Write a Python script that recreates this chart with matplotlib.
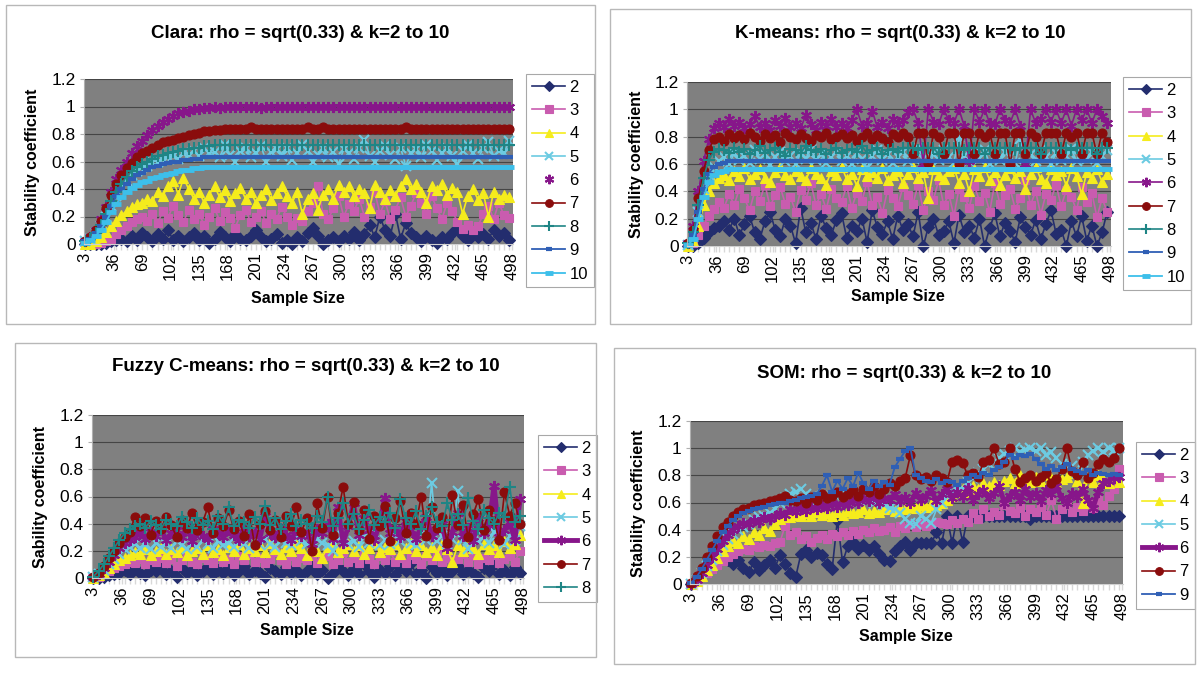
import matplotlib.pyplot as plt
import matplotlib.patches as patches
import numpy as np

plt.rcParams['font.family'] = ['Liberation Sans', 'DejaVu Sans']

# sample sizes (every second point of the 3..498 category axis)
sample_size = np.arange(3, 499, 6)
x_tick_values = [3, 36, 69, 102, 135, 168, 201, 234, 267, 300, 333, 366, 399, 432, 465, 498]
y_tick_values = [0, 0.2, 0.4, 0.6, 0.8, 1.0, 1.2]
y_tick_labels = ['0', '0.2', '0.4', '0.6', '0.8', '1', '1.2']

# ---------------- Clara ----------------
clara_k2 = [0.00, 0.00, 0.00, 0.00, 0.01, 0.02, 0.03, 0.04, 0.02, 0.06,
            0.03, 0.08, 0.05, 0.02, 0.07, 0.04, 0.10, 0.03, 0.06, 0.02,
            0.05, 0.08, 0.03, 0.06, 0.01, 0.04, 0.09, 0.05, 0.02, 0.07,
            0.04, 0.03, 0.06, 0.10, 0.05, 0.02, 0.04, 0.07, 0.01, 0.03,
            0.00, 0.05, 0.02, 0.08, 0.12, 0.06, 0.00, 0.03, 0.05, 0.02,
            0.06, 0.04, 0.09, 0.03, 0.07, 0.14, 0.05, 0.20, 0.10, 0.06,
            0.22, 0.04, 0.15, 0.08, 0.05, 0.02, 0.06, 0.03, 0.01, 0.05,
            0.04, 0.08, 0.11, 0.06, 0.03, 0.09, 0.05, 0.07, 0.04, 0.10,
            0.06, 0.08, 0.03]
clara_k3 = [0.00, 0.00, 0.00, 0.01, 0.02, 0.04, 0.07, 0.10, 0.13, 0.16,
            0.18, 0.20, 0.17, 0.22, 0.15, 0.24, 0.19, 0.28, 0.21, 0.16,
            0.25, 0.18, 0.22, 0.14, 0.20, 0.26, 0.17, 0.23, 0.19, 0.12,
            0.21, 0.25, 0.16, 0.20, 0.24, 0.15, 0.22, 0.18, 0.27, 0.20,
            0.14, 0.19, 0.17, 0.24, 0.30, 0.42, 0.22, 0.18, 0.26, 0.35,
            0.20, 0.29, 0.24, 0.33, 0.20, 0.27, 0.38, 0.22, 0.31, 0.18,
            0.25, 0.34, 0.20, 0.28, 0.37, 0.30, 0.22, 0.35, 0.26, 0.18,
            0.30, 0.24, 0.16, 0.11, 0.14, 0.10, 0.13, 0.22, 0.28, 0.18,
            0.30, 0.21, 0.19]
clara_k4 = [0.00, 0.00, 0.02, 0.05, 0.09, 0.13, 0.17, 0.21, 0.24, 0.27,
            0.29, 0.30, 0.33, 0.31, 0.38, 0.35, 0.42, 0.46, 0.36, 0.48,
            0.40, 0.33, 0.38, 0.30, 0.36, 0.42, 0.34, 0.39, 0.31, 0.37,
            0.41, 0.33, 0.38, 0.30, 0.36, 0.40, 0.32, 0.37, 0.42, 0.35,
            0.30, 0.38, 0.22, 0.33, 0.37, 0.25, 0.36, 0.40, 0.33, 0.43,
            0.38, 0.42, 0.35, 0.40, 0.37, 0.26, 0.43, 0.38, 0.33, 0.39,
            0.35, 0.42, 0.47, 0.40, 0.44, 0.38, 0.30, 0.42, 0.39, 0.44,
            0.36, 0.41, 0.38, 0.22, 0.35, 0.40, 0.32, 0.37, 0.20, 0.38,
            0.33, 0.36, 0.34]
clara_k5 = [0.02, 0.04, 0.08, 0.13, 0.20, 0.28, 0.35, 0.41, 0.46, 0.50,
            0.53, 0.56, 0.57, 0.60, 0.60, 0.62, 0.63, 0.64, 0.62, 0.66,
            0.65, 0.68, 0.64, 0.70, 0.66, 0.67, 0.63, 0.72, 0.65, 0.60,
            0.68, 0.70, 0.63, 0.66, 0.71, 0.60, 0.67, 0.69, 0.64, 0.70,
            0.61, 0.66, 0.72, 0.68, 0.60, 0.65, 0.70, 0.63, 0.67, 0.58,
            0.69, 0.66, 0.62, 0.70, 0.76, 0.64, 0.60, 0.68, 0.71, 0.65,
            0.62, 0.70, 0.57, 0.66, 0.69, 0.63, 0.72, 0.68, 0.61, 0.66,
            0.70, 0.64, 0.58, 0.68, 0.72, 0.66, 0.62, 0.70, 0.74, 0.64,
            0.68, 0.66, 0.75]
clara_k6 = [0.02, 0.05, 0.10, 0.18, 0.27, 0.38, 0.47, 0.54, 0.60, 0.66,
            0.71, 0.75, 0.79, 0.83, 0.86, 0.89, 0.91, 0.93, 0.95, 0.96,
            0.97, 0.98, 0.98, 0.99, 0.99, 1.00, 0.99, 1.00, 1.00, 1.00,
            1.00, 1.00, 1.00, 1.00, 0.99, 1.00, 1.00, 1.00, 1.00, 1.00,
            1.00, 1.00, 1.00, 1.00, 1.00, 1.00, 1.00, 1.00, 1.00, 1.00,
            1.00, 1.00, 1.00, 1.00, 1.00, 1.00, 1.00, 1.00, 1.00, 1.00,
            1.00, 1.00, 1.00, 1.00, 1.00, 1.00, 1.00, 1.00, 1.00, 1.00,
            1.00, 1.00, 1.00, 1.00, 1.00, 1.00, 1.00, 1.00, 1.00, 1.00,
            1.00, 1.00, 1.00]
clara_k7 = [0.02, 0.05, 0.10, 0.17, 0.26, 0.36, 0.44, 0.50, 0.55, 0.59,
            0.63, 0.66, 0.68, 0.70, 0.72, 0.74, 0.75, 0.76, 0.77, 0.78,
            0.79, 0.80, 0.81, 0.82, 0.82, 0.83, 0.83, 0.84, 0.84, 0.84,
            0.84, 0.84, 0.85, 0.84, 0.84, 0.84, 0.84, 0.84, 0.84, 0.84,
            0.84, 0.84, 0.84, 0.85, 0.84, 0.84, 0.85, 0.84, 0.84, 0.84,
            0.84, 0.84, 0.84, 0.84, 0.84, 0.84, 0.84, 0.84, 0.84, 0.84,
            0.84, 0.84, 0.85, 0.84, 0.84, 0.84, 0.84, 0.84, 0.84, 0.84,
            0.84, 0.84, 0.84, 0.84, 0.84, 0.84, 0.84, 0.84, 0.84, 0.84,
            0.84, 0.84, 0.84]
clara_k8 = [0.02, 0.04, 0.08, 0.14, 0.22, 0.31, 0.38, 0.44, 0.49, 0.53,
            0.56, 0.58, 0.60, 0.62, 0.64, 0.65, 0.66, 0.67, 0.68, 0.69,
            0.69, 0.70, 0.70, 0.71, 0.71, 0.72, 0.72, 0.72, 0.72, 0.72,
            0.72, 0.72, 0.72, 0.72, 0.72, 0.72, 0.72, 0.72, 0.72, 0.72,
            0.72, 0.72, 0.72, 0.72, 0.72, 0.72, 0.72, 0.72, 0.72, 0.72,
            0.72, 0.72, 0.72, 0.72, 0.72, 0.72, 0.72, 0.72, 0.72, 0.72,
            0.72, 0.72, 0.72, 0.72, 0.72, 0.72, 0.72, 0.72, 0.72, 0.72,
            0.72, 0.72, 0.72, 0.72, 0.72, 0.72, 0.72, 0.72, 0.72, 0.72,
            0.72, 0.72, 0.72]
clara_k9 = [0.02, 0.04, 0.08, 0.13, 0.20, 0.28, 0.35, 0.40, 0.44, 0.47,
            0.50, 0.52, 0.54, 0.56, 0.57, 0.58, 0.59, 0.60, 0.60, 0.61,
            0.61, 0.62, 0.62, 0.63, 0.63, 0.63, 0.63, 0.63, 0.63, 0.63,
            0.63, 0.63, 0.63, 0.63, 0.63, 0.63, 0.63, 0.63, 0.63, 0.63,
            0.63, 0.63, 0.63, 0.63, 0.63, 0.63, 0.63, 0.63, 0.63, 0.63,
            0.63, 0.63, 0.63, 0.63, 0.63, 0.63, 0.63, 0.63, 0.63, 0.63,
            0.63, 0.63, 0.63, 0.63, 0.63, 0.63, 0.63, 0.63, 0.63, 0.63,
            0.63, 0.63, 0.63, 0.63, 0.63, 0.63, 0.63, 0.63, 0.63, 0.63,
            0.63, 0.63, 0.63]
clara_k10 = [0.01, 0.03, 0.06, 0.10, 0.16, 0.23, 0.29, 0.34, 0.38, 0.41,
             0.43, 0.45, 0.46, 0.48, 0.49, 0.50, 0.51, 0.52, 0.53, 0.54,
             0.54, 0.55, 0.55, 0.56, 0.56, 0.56, 0.56, 0.56, 0.56, 0.56,
             0.56, 0.56, 0.56, 0.56, 0.56, 0.56, 0.56, 0.56, 0.56, 0.56,
             0.56, 0.56, 0.56, 0.56, 0.56, 0.56, 0.56, 0.56, 0.56, 0.56,
             0.56, 0.56, 0.56, 0.56, 0.56, 0.56, 0.56, 0.56, 0.56, 0.56,
             0.56, 0.56, 0.56, 0.56, 0.56, 0.56, 0.56, 0.56, 0.56, 0.56,
             0.56, 0.56, 0.56, 0.56, 0.56, 0.56, 0.56, 0.56, 0.56, 0.56,
             0.56, 0.56, 0.56]

# ---------------- K-means ----------------
km_k2 = [0.00, 0.00, 0.02, 0.06, 0.10, 0.13, 0.15, 0.18, 0.12, 0.20,
         0.08, 0.16, 0.22, 0.10, 0.05, 0.18, 0.25, 0.12, 0.07, 0.20,
         0.15, 0.02, 0.28, 0.10, 0.17, 0.05, 0.22, 0.13, 0.08, 0.19,
         0.24, 0.06, 0.15, 0.11, 0.20, 0.03, 0.26, 0.14, 0.09, 0.18,
         0.05, 0.22, 0.12, 0.16, 0.07, 0.25, 0.00, 0.14, 0.20, 0.08,
         0.11, 0.18, 0.02, 0.23, 0.10, 0.15, 0.06, 0.20, 0.00, 0.13,
         0.24, 0.07, 0.17, 0.11, 0.03, 0.21, 0.14, 0.08, 0.19, 0.05,
         0.16, 0.26, 0.09, 0.12, 0.00, 0.18, 0.07, 0.22, 0.04, 0.15,
         0.00, 0.10, 0.25]
km_k3 = [0.00, 0.02, 0.08, 0.15, 0.22, 0.27, 0.32, 0.28, 0.38, 0.30,
         0.42, 0.35, 0.26, 0.40, 0.33, 0.45, 0.29, 0.37, 0.43, 0.31,
         0.36, 0.25, 0.41, 0.34, 0.46, 0.30, 0.38, 0.27, 0.42, 0.35,
         0.32, 0.44, 0.28, 0.39, 0.33, 0.47, 0.30, 0.36, 0.24, 0.41,
         0.35, 0.29, 0.43, 0.37, 0.31, 0.45, 0.26, 0.40, 0.34, 0.48,
         0.30, 0.38, 0.22, 0.42, 0.36, 0.28, 0.44, 0.33, 0.39, 0.25,
         0.46, 0.31, 0.37, 0.42, 0.27, 0.35, 0.48, 0.30, 0.40, 0.23,
         0.38, 0.34, 0.45, 0.29, 0.41, 0.36, 0.26, 0.43, 0.32, 0.39,
         0.21, 0.35, 0.25]
km_k4 = [0.00, 0.04, 0.15, 0.30, 0.40, 0.46, 0.50, 0.52, 0.48, 0.55,
         0.51, 0.57, 0.49, 0.53, 0.56, 0.50, 0.47, 0.54, 0.58, 0.52,
         0.49, 0.55, 0.51, 0.48, 0.57, 0.53, 0.50, 0.45, 0.55, 0.52,
         0.58, 0.49, 0.53, 0.44, 0.56, 0.51, 0.54, 0.50, 0.57, 0.48,
         0.52, 0.55, 0.46, 0.53, 0.58, 0.50, 0.54, 0.35, 0.56, 0.52,
         0.49, 0.55, 0.57, 0.46, 0.53, 0.40, 0.56, 0.51, 0.58, 0.48,
         0.54, 0.45, 0.52, 0.57, 0.50, 0.55, 0.42, 0.53, 0.58, 0.49,
         0.46, 0.56, 0.52, 0.55, 0.44, 0.57, 0.51, 0.38, 0.54, 0.50,
         0.56, 0.47, 0.53]
km_k5 = [0.01, 0.08, 0.25, 0.42, 0.52, 0.58, 0.62, 0.65, 0.60, 0.68,
         0.63, 0.66, 0.61, 0.70, 0.64, 0.67, 0.59, 0.65, 0.69, 0.62,
         0.66, 0.60, 0.68, 0.64, 0.71, 0.63, 0.67, 0.61, 0.65, 0.69,
         0.62, 0.66, 0.60, 0.68, 0.64, 0.57, 0.66, 0.70, 0.63, 0.67,
         0.61, 0.65, 0.69, 0.62, 0.66, 0.72, 0.64, 0.58, 0.67, 0.63,
         0.70, 0.65, 0.61, 0.80, 0.66, 0.62, 0.68, 0.64, 0.70, 0.60,
         0.66, 0.63, 0.69, 0.65, 0.61, 0.78, 0.64, 0.67, 0.62, 0.70,
         0.65, 0.60, 0.68, 0.63, 0.66, 0.71, 0.62, 0.67, 0.64, 0.69,
         0.61, 0.66, 0.70]
km_k6 = [0.02, 0.15, 0.40, 0.62, 0.78, 0.86, 0.90, 0.87, 0.93, 0.88,
         0.91, 0.86, 0.89, 0.95, 0.87, 0.90, 0.85, 0.92, 0.88, 0.94,
         0.87, 0.90, 0.86, 0.96, 0.89, 0.85, 0.91, 0.88, 0.93, 0.87,
         0.90, 0.86, 0.92, 1.00, 0.88, 0.90, 0.99, 0.87, 0.91, 0.86,
         0.93, 0.89, 0.92, 0.98, 1.00, 0.90, 0.60, 1.00, 0.91, 0.89,
         1.00, 0.92, 0.90, 1.00, 0.88, 0.62, 1.00, 0.91, 1.00, 0.90,
         0.89, 1.00, 0.92, 0.90, 1.00, 0.88, 0.60, 1.00, 0.90, 0.93,
         1.00, 0.91, 1.00, 0.90, 1.00, 0.88, 1.00, 0.92, 1.00, 0.90,
         1.00, 0.95, 0.90]
km_k7 = [0.02, 0.12, 0.35, 0.55, 0.70, 0.78, 0.80, 0.77, 0.82, 0.79,
         0.81, 0.78, 0.83, 0.80, 0.77, 0.82, 0.79, 0.81, 0.76, 0.83,
         0.80, 0.78, 0.82, 0.79, 0.77, 0.81, 0.80, 0.83, 0.78, 0.80,
         0.82, 0.79, 0.81, 0.77, 0.80, 0.83, 0.78, 0.81, 0.79, 0.76,
         0.82, 0.80, 0.83, 0.80, 0.67, 0.83, 0.83, 0.61, 0.83, 0.80,
         0.67, 0.83, 0.83, 0.60, 0.83, 0.83, 0.67, 0.83, 0.80, 0.83,
         0.67, 0.83, 0.83, 0.60, 0.83, 0.83, 0.67, 0.83, 0.80, 0.67,
         0.83, 0.83, 0.83, 0.67, 0.83, 0.80, 0.83, 0.67, 0.83, 0.83,
         0.67, 0.83, 0.76]
km_k8 = [0.02, 0.10, 0.30, 0.50, 0.63, 0.69, 0.71, 0.70, 0.68, 0.72,
         0.69, 0.71, 0.67, 0.70, 0.73, 0.68, 0.70, 0.72, 0.69, 0.66,
         0.71, 0.70, 0.68, 0.73, 0.70, 0.69, 0.71, 0.67, 0.70, 0.72,
         0.68, 0.70, 0.71, 0.69, 0.73, 0.68, 0.70, 0.72, 0.67, 0.70,
         0.71, 0.69, 0.72, 0.72, 0.72, 0.70, 0.72, 0.72, 0.72, 0.67,
         0.72, 0.72, 0.72, 0.72, 0.70, 0.72, 0.72, 0.72, 0.67, 0.72,
         0.72, 0.72, 0.72, 0.72, 0.70, 0.72, 0.72, 0.72, 0.72, 0.67,
         0.72, 0.72, 0.72, 0.72, 0.72, 0.70, 0.72, 0.72, 0.72, 0.72,
         0.67, 0.72, 0.72]
km_k9 = [0.01, 0.08, 0.25, 0.42, 0.53, 0.58, 0.60, 0.61, 0.62, 0.62,
         0.62, 0.62, 0.62, 0.62, 0.62, 0.62, 0.62, 0.62, 0.62, 0.62,
         0.62, 0.62, 0.62, 0.62, 0.62, 0.62, 0.62, 0.62, 0.62, 0.62,
         0.62, 0.62, 0.62, 0.62, 0.62, 0.62, 0.62, 0.62, 0.62, 0.62,
         0.62, 0.62, 0.62, 0.62, 0.62, 0.62, 0.62, 0.62, 0.62, 0.62,
         0.62, 0.62, 0.62, 0.62, 0.62, 0.62, 0.62, 0.62, 0.62, 0.62,
         0.62, 0.62, 0.62, 0.62, 0.62, 0.62, 0.62, 0.62, 0.62, 0.62,
         0.62, 0.62, 0.62, 0.62, 0.62, 0.62, 0.62, 0.62, 0.62, 0.62,
         0.62, 0.62, 0.62]
km_k10 = [0.01, 0.05, 0.20, 0.36, 0.47, 0.52, 0.54, 0.55, 0.56, 0.56,
          0.56, 0.56, 0.56, 0.56, 0.56, 0.56, 0.56, 0.56, 0.56, 0.56,
          0.56, 0.56, 0.56, 0.56, 0.56, 0.56, 0.56, 0.56, 0.56, 0.56,
          0.56, 0.56, 0.56, 0.56, 0.56, 0.56, 0.56, 0.56, 0.56, 0.56,
          0.56, 0.56, 0.56, 0.56, 0.56, 0.56, 0.56, 0.56, 0.56, 0.56,
          0.56, 0.56, 0.56, 0.56, 0.56, 0.56, 0.56, 0.56, 0.56, 0.56,
          0.56, 0.56, 0.56, 0.56, 0.56, 0.56, 0.56, 0.56, 0.56, 0.56,
          0.56, 0.56, 0.56, 0.56, 0.56, 0.56, 0.56, 0.56, 0.56, 0.56,
          0.56, 0.56, 0.56]

# ---------------- Fuzzy C-means ----------------
fz_k2 = [0.00, 0.00, 0.01, 0.02, 0.03, 0.04, 0.06, 0.03, 0.07, 0.04,
         0.02, 0.06, 0.05, 0.08, 0.03, 0.05, 0.01, 0.07, 0.04, 0.06,
         0.02, 0.05, 0.08, 0.03, 0.06, 0.04, 0.07, 0.02, 0.05, 0.09,
         0.03, 0.06, 0.04, 0.01, 0.07, 0.05, 0.03, 0.08, 0.04, 0.06,
         0.02, 0.05, 0.09, 0.03, 0.06, 0.00, 0.04, 0.08, 0.05, 0.02,
         0.07, 0.03, 0.10, 0.05, 0.01, 0.06, 0.04, 0.09, 0.02, 0.07,
         0.05, 0.11, 0.03, 0.06, 0.00, 0.08, 0.04, 0.07, 0.02, 0.05,
         0.09, 0.03, 0.06, 0.04, 0.01, 0.07, 0.05, 0.10, 0.03, 0.06,
         0.02, 0.08, 0.04]
fz_k3 = [0.00, 0.01, 0.03, 0.05, 0.07, 0.09, 0.10, 0.12, 0.11, 0.14,
         0.10, 0.13, 0.12, 0.15, 0.11, 0.14, 0.09, 0.13, 0.16, 0.12,
         0.10, 0.15, 0.13, 0.11, 0.17, 0.12, 0.14, 0.10, 0.16, 0.13,
         0.18, 0.12, 0.15, 0.11, 0.14, 0.19, 0.13, 0.10, 0.16, 0.12,
         0.15, 0.13, 0.18, 0.11, 0.14, 0.16, 0.10, 0.13, 0.19, 0.12,
         0.15, 0.11, 0.17, 0.14, 0.10, 0.16, 0.13, 0.20, 0.12, 0.15,
         0.11, 0.17, 0.14, 0.10, 0.16, 0.13, 0.19, 0.12, 0.15, 0.11,
         0.14, 0.18, 0.12, 0.16, 0.10, 0.15, 0.13, 0.17, 0.11, 0.14,
         0.16, 0.12, 0.20]
fz_k4 = [0.00, 0.02, 0.04, 0.07, 0.10, 0.13, 0.15, 0.17, 0.19, 0.18,
         0.21, 0.17, 0.20, 0.22, 0.18, 0.21, 0.19, 0.23, 0.17, 0.20,
         0.22, 0.18, 0.24, 0.19, 0.21, 0.17, 0.23, 0.20, 0.25, 0.18,
         0.22, 0.20, 0.24, 0.19, 0.26, 0.21, 0.18, 0.23, 0.20, 0.25,
         0.22, 0.17, 0.24, 0.20, 0.15, 0.23, 0.26, 0.19, 0.22, 0.25,
         0.20, 0.24, 0.18, 0.22, 0.26, 0.19, 0.23, 0.21, 0.25, 0.18,
         0.22, 0.26, 0.20, 0.24, 0.19, 0.23, 0.17, 0.25, 0.21, 0.12,
         0.24, 0.20, 0.26, 0.22, 0.18, 0.25, 0.21, 0.24, 0.19, 0.27,
         0.22, 0.25, 0.32]
fz_k5 = [0.01, 0.03, 0.06, 0.10, 0.14, 0.18, 0.21, 0.23, 0.25, 0.22,
         0.24, 0.21, 0.26, 0.23, 0.25, 0.22, 0.27, 0.24, 0.21, 0.26,
         0.23, 0.28, 0.25, 0.22, 0.27, 0.24, 0.26, 0.23, 0.28, 0.25,
         0.22, 0.27, 0.24, 0.29, 0.25, 0.23, 0.28, 0.26, 0.24, 0.30,
         0.27, 0.25, 0.22, 0.29, 0.26, 0.24, 0.20, 0.28, 0.31, 0.25,
         0.27, 0.23, 0.30, 0.26, 0.33, 0.24, 0.28, 0.25, 0.32, 0.27,
         0.30, 0.26, 0.24, 0.35, 0.28, 0.70, 0.27, 0.31, 0.25, 0.29,
         0.64, 0.28, 0.21, 0.33, 0.27, 0.30, 0.26, 0.34, 0.29, 0.25,
         0.31, 0.28, 0.38]
fz_k6 = [0.01, 0.03, 0.07, 0.12, 0.17, 0.22, 0.26, 0.28, 0.30, 0.33,
         0.29, 0.34, 0.31, 0.36, 0.28, 0.33, 0.35, 0.30, 0.38, 0.27,
         0.34, 0.31, 0.29, 0.36, 0.33, 0.30, 0.35, 0.32, 0.28, 0.37,
         0.31, 0.34, 0.29, 0.46, 0.33, 0.30, 0.36, 0.32, 0.28, 0.35,
         0.31, 0.34, 0.25, 0.36, 0.33, 0.40, 0.29, 0.52, 0.26, 0.38,
         0.55, 0.32, 0.44, 0.35, 0.28, 0.40, 0.59, 0.33, 0.37, 0.30,
         0.42, 0.35, 0.29, 0.38, 0.45, 0.31, 0.36, 0.40, 0.22, 0.34,
         0.48, 0.31, 0.37, 0.27, 0.44, 0.33, 0.39, 0.68, 0.30, 0.35,
         0.41, 0.28, 0.58]
fz_k7 = [0.01, 0.04, 0.09, 0.15, 0.20, 0.26, 0.30, 0.34, 0.45, 0.38,
         0.44, 0.32, 0.42, 0.36, 0.45, 0.39, 0.30, 0.43, 0.37, 0.48,
         0.35, 0.41, 0.52, 0.33, 0.44, 0.38, 0.50, 0.36, 0.42, 0.31,
         0.47, 0.24, 0.40, 0.49, 0.35, 0.43, 0.30, 0.46, 0.38, 0.52,
         0.34, 0.44, 0.20, 0.55, 0.37, 0.60, 0.32, 0.48, 0.67, 0.40,
         0.56, 0.35, 0.50, 0.29, 0.46, 0.38, 0.53, 0.27, 0.44, 0.57,
         0.33, 0.48, 0.40, 0.60, 0.31, 0.52, 0.37, 0.45, 0.26, 0.61,
         0.39, 0.54, 0.30, 0.47, 0.58, 0.35, 0.50, 0.42, 0.28, 0.63,
         0.46, 0.55, 0.40]
fz_k8 = [0.01, 0.05, 0.10, 0.16, 0.22, 0.28, 0.33, 0.36, 0.38, 0.40,
         0.37, 0.42, 0.39, 0.36, 0.43, 0.40, 0.38, 0.45, 0.41, 0.37,
         0.44, 0.39, 0.42, 0.36, 0.46, 0.40, 0.52, 0.38, 0.43, 0.41,
         0.37, 0.45, 0.40, 0.53, 0.39, 0.44, 0.36, 0.42, 0.47, 0.38,
         0.43, 0.40, 0.37, 0.46, 0.41, 0.60, 0.38, 0.44, 0.55, 0.40,
         0.47, 0.36, 0.43, 0.50, 0.39, 0.45, 0.41, 0.48, 0.37, 0.58,
         0.44, 0.40, 0.49, 0.36, 0.46, 0.52, 0.41, 0.38, 0.55, 0.43,
         0.47, 0.39, 0.59, 0.42, 0.36, 0.50, 0.44, 0.40, 0.48, 0.45,
         0.67, 0.41, 0.46]

# ---------------- SOM ----------------
som_k2 = [0.00, 0.03, 0.07, 0.11, 0.14, 0.17, 0.19, 0.18, 0.15, 0.18,
          0.12, 0.09, 0.16, 0.10, 0.14, 0.18, 0.12, 0.21, 0.15, 0.08,
          0.05, 0.22, 0.25, 0.20, 0.23, 0.21, 0.15, 0.11, 0.47, 0.16,
          0.28, 0.31, 0.26, 0.29, 0.25, 0.28, 0.22, 0.18, 0.17, 0.24,
          0.28, 0.31, 0.25, 0.30, 0.30, 0.30, 0.30, 0.38, 0.30, 0.50,
          0.30, 0.50, 0.31, 0.50, 0.50, 0.50, 0.50, 0.50, 0.50, 0.50,
          0.50, 0.50, 0.50, 0.50, 0.50, 0.48, 0.50, 0.50, 0.50, 0.50,
          0.50, 0.50, 0.50, 0.50, 0.50, 0.50, 0.50, 0.50, 0.50, 0.50,
          0.50, 0.50, 0.50]
som_k3 = [0.00, 0.02, 0.05, 0.08, 0.11, 0.14, 0.17, 0.20, 0.22, 0.24,
          0.26, 0.25, 0.28, 0.27, 0.29, 0.28, 0.30, 0.31, 0.43, 0.36,
          0.38, 0.33, 0.35, 0.31, 0.34, 0.36, 0.33, 0.37, 0.35, 0.38,
          0.36, 0.39, 0.37, 0.40, 0.38, 0.41, 0.39, 0.40, 0.42, 0.38,
          0.43, 0.41, 0.44, 0.42, 0.45, 0.43, 0.44, 0.46, 0.45, 0.44,
          0.47, 0.45, 0.48, 0.46, 0.52, 0.48, 0.55, 0.50, 0.53, 0.51,
          0.58, 0.54, 0.52, 0.56, 0.50, 0.55, 0.53, 0.57, 0.51, 0.62,
          0.48, 0.55, 0.60, 0.53, 0.57, 0.54, 0.59, 0.56, 0.62, 0.58,
          0.65, 0.70, 0.85]
som_k4 = [0.00, 0.02, 0.06, 0.10, 0.14, 0.19, 0.24, 0.28, 0.32, 0.30,
          0.35, 0.33, 0.38, 0.36, 0.41, 0.39, 0.44, 0.48, 0.50, 0.49,
          0.51, 0.50, 0.52, 0.50, 0.53, 0.51, 0.52, 0.50, 0.53, 0.51,
          0.54, 0.52, 0.53, 0.55, 0.52, 0.54, 0.53, 0.55, 0.56, 0.54,
          0.56, 0.55, 0.57, 0.56, 0.58, 0.57, 0.59, 0.58, 0.60, 0.62,
          0.65, 0.68, 0.70, 0.68, 0.72, 0.70, 0.74, 0.72, 0.75, 0.73,
          0.76, 0.78, 0.74, 0.80, 0.77, 0.75, 0.79, 0.76, 0.80, 0.78,
          0.74, 0.77, 0.79, 0.82, 0.76, 0.60, 0.78, 0.75, 0.80, 0.77,
          0.74, 0.78, 0.75]
som_k5 = [0.00, 0.03, 0.08, 0.13, 0.18, 0.24, 0.29, 0.33, 0.37, 0.40,
          0.42, 0.44, 0.47, 0.49, 0.50, 0.52, 0.55, 0.60, 0.63, 0.66,
          0.68, 0.70, 0.66, 0.64, 0.62, 0.65, 0.63, 0.61, 0.64, 0.62,
          0.65, 0.63, 0.61, 0.64, 0.62, 0.60, 0.63, 0.58, 0.56, 0.55,
          0.52, 0.48, 0.45, 0.44, 0.50, 0.48, 0.45, 0.55, 0.60, 0.65,
          0.68, 0.72, 0.70, 0.75, 0.78, 0.82, 0.85, 0.88, 0.90, 0.93,
          0.96, 0.98, 1.00, 0.97, 0.99, 1.00, 0.98, 1.00, 0.95, 0.97,
          0.93, 0.88, 0.85, 0.87, 0.82, 0.90, 0.95, 0.98, 1.00, 0.97,
          1.00, 0.99, 1.00]
som_k6 = [0.00, 0.03, 0.08, 0.14, 0.20, 0.26, 0.32, 0.36, 0.40, 0.43,
          0.45, 0.44, 0.47, 0.46, 0.49, 0.48, 0.50, 0.52, 0.51, 0.55,
          0.53, 0.56, 0.54, 0.57, 0.55, 0.58, 0.56, 0.60, 0.57, 0.59,
          0.58, 0.62, 0.60, 0.63, 0.61, 0.65, 0.60, 0.63, 0.62, 0.66,
          0.61, 0.64, 0.60, 0.67, 0.62, 0.65, 0.69, 0.61, 0.66, 0.70,
          0.63, 0.68, 0.64, 0.71, 0.62, 0.66, 0.69, 0.63, 0.67, 0.72,
          0.60, 0.65, 0.68, 0.62, 0.70, 0.64, 0.67, 0.61, 0.69, 0.66,
          0.72, 0.63, 0.60, 0.67, 0.64, 0.70, 0.62, 0.56, 0.68, 0.74,
          0.76, 0.78, 0.79]
som_k7 = [0.01, 0.06, 0.12, 0.20, 0.28, 0.35, 0.42, 0.46, 0.50, 0.53,
          0.55, 0.56, 0.58, 0.59, 0.60, 0.61, 0.62, 0.63, 0.65, 0.62,
          0.61, 0.63, 0.60, 0.64, 0.62, 0.66, 0.63, 0.65, 0.68, 0.64,
          0.66, 0.69, 0.65, 0.70, 0.68, 0.72, 0.66, 0.70, 0.74, 0.72,
          0.76, 0.78, 0.95, 0.80, 0.77, 0.79, 0.76, 0.80, 0.78, 0.75,
          0.90, 0.91, 0.89, 0.80, 0.82, 0.79, 0.90, 0.91, 1.00, 0.88,
          0.90, 1.00, 0.85, 0.75, 0.78, 0.80, 0.76, 0.79, 0.82, 0.74,
          0.77, 0.85, 1.00, 0.83, 0.80, 0.90, 0.78, 0.82, 0.88, 0.92,
          0.90, 0.93, 1.00]
som_k9 = [0.01, 0.05, 0.11, 0.18, 0.25, 0.32, 0.38, 0.43, 0.47, 0.50,
          0.52, 0.54, 0.55, 0.56, 0.57, 0.58, 0.59, 0.60, 0.60, 0.61,
          0.62, 0.63, 0.64, 0.65, 0.66, 0.72, 0.80, 0.68, 0.76, 0.70,
          0.78, 0.72, 0.82, 0.74, 0.70, 0.76, 0.72, 0.75, 0.73, 0.86,
          0.92, 0.98, 1.00, 0.80, 0.78, 0.76, 0.75, 0.77, 0.74, 0.76,
          0.75, 0.73, 0.76, 0.78, 0.80, 0.79, 0.82, 0.80, 0.84, 0.86,
          0.90, 0.95, 0.93, 0.95, 0.94, 0.96, 0.92, 0.88, 0.85, 0.87,
          0.84, 0.86, 0.88, 0.85, 0.83, 0.82, 0.84, 0.80, 0.82, 0.81,
          0.80, 0.81, 0.80]

# series look (Excel 2003 default palette)
look = {
    '2': dict(color='#232d6e', marker='D', ms=6.0, mew=0.8, lw=1.2),
    '3': dict(color='#c95caf', marker='s', ms=6.0, mew=0.8, lw=1.2),
    '4': dict(color='#f5ec1c', marker='^', ms=7.5, mew=0.8, lw=1.2),
    '5': dict(color='#6ccbe2', marker='x', ms=6.5, mew=1.5, lw=1.2),
    '6': dict(color='#87168a', marker=(6, 2, 0), ms=8.0, mew=1.5, lw=1.2),
    '7': dict(color='#8a0c0c', marker='o', ms=6.5, mew=0.8, lw=1.2),
    '8': dict(color='#1f8585', marker='+', ms=8.0, mew=1.5, lw=1.2),
    '9': dict(color='#2f5fb5', marker='_', ms=5.5, mew=3.0, lw=1.3),
    '10': dict(color='#3dbfea', marker='_', ms=6.5, mew=3.5, lw=1.3),
}

W, H = 1200, 675
fig = plt.figure(figsize=(12, 6.75), dpi=100)
fig.patch.set_facecolor('white')


def fx(x):
    return x / W


def fy(y):
    return 1 - y / H


def panel(box, plot, title, title_xy, ylabel, ylabel_xy, xlabel_xy, legend_xy,
          series, thick6=False, no_line6=False):
    bx0, by0, bx1, by1 = box
    fig.add_artist(patches.Rectangle((fx(bx0), fy(by1)), fx(bx1 - bx0), (by1 - by0) / H,
                                     transform=fig.transFigure, fill=False,
                                     edgecolor='#b8b8b8', lw=1.0))
    px0, py0, px1, py1 = plot
    ax = fig.add_axes([fx(px0), fy(py1), fx(px1 - px0), (py1 - py0) / H])
    ax.set_facecolor('#808080')
    for key, vals in series:
        st = look[key]
        lw = st['lw']
        ls = '-'
        if key == '6' and thick6:
            lw = 3.5
        if key == '6' and no_line6:
            ls = 'none'
        ax.plot(sample_size[:len(vals)], vals, color=st['color'], marker=st['marker'],
                ms=st['ms'], mew=st['mew'], mec=st['color'], mfc=st['color'],
                lw=lw, ls=ls, label=key, clip_on=False)
    ax.set_xlim(1.5, 499.5)
    ax.set_ylim(0, 1.2)
    ax.set_yticks(y_tick_values)
    ax.set_yticklabels(y_tick_labels)
    ax.set_xticks(x_tick_values)
    ax.set_xticklabels([str(v) for v in x_tick_values], rotation=90)
    ax.set_xticks(np.arange(3, 499, 6), minor=True)
    ax.yaxis.grid(True, color='#454545', lw=0.8)
    ax.set_axisbelow(True)
    for s in ['top', 'right']:
        ax.spines[s].set_visible(False)
    ax.spines['left'].set_color('#b0b0b0')
    ax.spines['bottom'].set_color('#d0d0d0')
    ax.tick_params(axis='x', which='both', length=4, width=1, color='#d8d8d8',
                   labelsize=12, pad=2)
    ax.tick_params(axis='y', length=3, color='#b0b0b0', labelsize=12.5, pad=3)

    fig.text(fx(title_xy[0]), fy(title_xy[1]), title, ha='center', va='center',
             fontsize=13.5, fontweight='bold')
    fig.text(fx(ylabel_xy[0]), fy(ylabel_xy[1]), ylabel, ha='center', va='center',
             rotation=90, fontsize=11.5, fontweight='bold')
    fig.text(fx(xlabel_xy[0]), fy(xlabel_xy[1]), 'Sample Size', ha='center', va='center',
             fontsize=11.5, fontweight='bold')

    handles, labels = ax.get_legend_handles_labels()
    leg = ax.legend(handles, labels, loc='upper left',
                    bbox_to_anchor=(fx(legend_xy[0]), fy(legend_xy[1])),
                    bbox_transform=fig.transFigure, fontsize=12, frameon=True,
                    fancybox=False, edgecolor='#a8a8a8', framealpha=1,
                    handlelength=2.0, handletextpad=0.25, labelspacing=0.5,
                    borderpad=0.35, borderaxespad=0, markerscale=0.85)
    leg.get_frame().set_linewidth(0.8)
    return ax


panel((6, 5, 595, 324), (84, 79, 513, 244),
      'Clara: rho = sqrt(0.33) & k=2 to 10', (300, 34),
      'Stability coefficient', (33, 162), (298, 298), (526, 74),
      [('2', clara_k2), ('3', clara_k3), ('4', clara_k4), ('5', clara_k5),
       ('6', clara_k6), ('7', clara_k7), ('8', clara_k8), ('9', clara_k9),
       ('10', clara_k10)], no_line6=True)

panel((610, 9, 1191, 324), (687, 82, 1111, 246),
      'K-means: rho = sqrt(0.33) & k=2 to 10', (900, 34),
      'Stability coefficient', (637, 164), (898, 297), (1123, 77),
      [('2', km_k2), ('3', km_k3), ('4', km_k4), ('5', km_k5),
       ('6', km_k6), ('7', km_k7), ('8', km_k8), ('9', km_k9),
       ('10', km_k10)])

panel((15, 343, 596, 657), (92, 415, 524, 578),
      'Fuzzy C-means: rho = sqrt(0.33) & k=2 to 10', (306, 366),
      'Sability coefficient', (41, 497), (307, 630), (538, 435),
      [('2', fz_k2), ('3', fz_k3), ('4', fz_k4), ('5', fz_k5),
       ('6', fz_k6), ('7', fz_k7), ('8', fz_k8)], thick6=True)

panel((614, 348, 1195, 664), (690, 421, 1123, 584),
      'SOM: rho = sqrt(0.33) & k=2 to 10', (904, 373),
      'Stability coefficient', (639, 503), (906, 636), (1136, 442),
      [('2', som_k2), ('3', som_k3), ('4', som_k4), ('5', som_k5),
       ('6', som_k6), ('7', som_k7), ('9', som_k9)], thick6=True)

fig.savefig('out.png', dpi=100)
